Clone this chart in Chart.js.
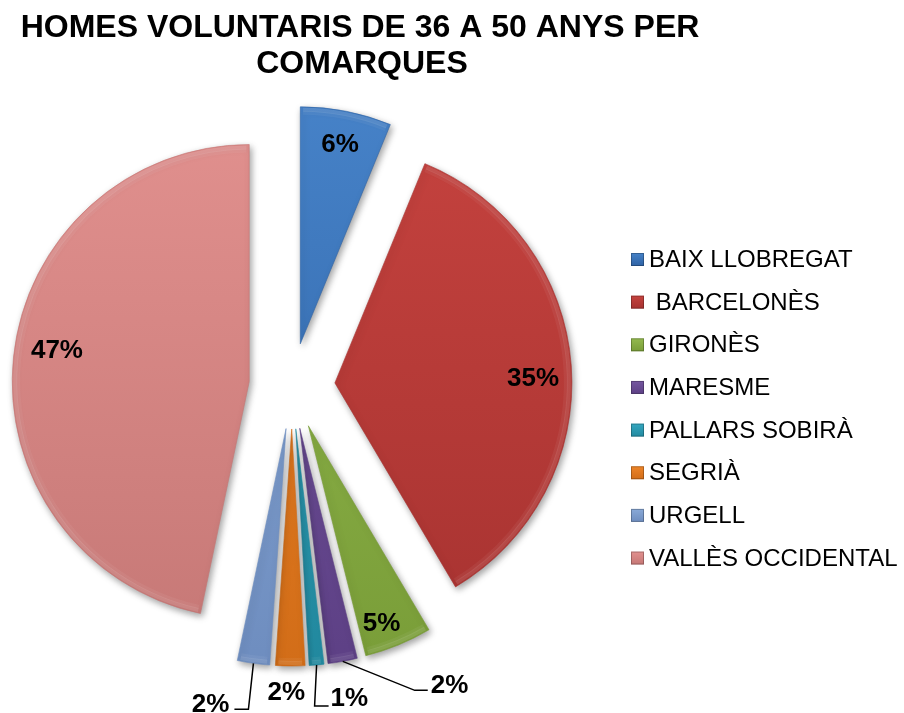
<!DOCTYPE html>
<html><head><meta charset="utf-8">
<script src="https://cdn.jsdelivr.net/npm/chart.js@4/dist/chart.umd.min.js"></script>
<style>html,body{margin:0;padding:0;background:#fff}#wrap{width:904px;height:713px;position:relative}</style>
</head><body><div id="wrap"><canvas id="c" width="904" height="713"></canvas></div>
<script>
// ---- data ----
const titleLines = ['HOMES VOLUNTARIS DE 36 A 50 ANYS PER', 'COMARQUES'];
const categories = ['BAIX LLOBREGAT', ' BARCELONÈS', 'GIRONÈS', 'MARESME', 'PALLARS SOBIRÀ', 'SEGRIÀ', 'URGELL', 'VALLÈS OCCIDENTAL'];
const percentValues = [6.2, 35.3, 4.6, 2.0, 1.0, 2.0, 2.2, 46.7];

// ---- styles ----
const baseColors  = ['#3a72b8', '#b93a37', '#88ac44', '#6a4c94', '#2b99b1', '#e27a22', '#7f9ece', '#d88886'];
const lightColors = ['#4682c8', '#c6433f', '#94ba4f', '#7556a0', '#35a7c0', '#ee8529', '#8aaad8', '#e2918f'];
const darkColors  = ['#2e62a4', '#a63230', '#799d38', '#5d4085', '#228aa0', '#d26d18', '#6e8dbf', '#c57775'];
const FONT = '"Liberation Sans", Arial, sans-serif';
const EXPLODE = 43;
const RADIUS = 237;
// label placement: inside -> fraction of radius (+ nudge); outside -> leader points & text pos relative to outer tip
const labelPlacement = [
  {inside: 0.865, nudge: [0, 0]},
  {inside: 0.83, nudge: [2, 8]},
  {inside: 0.88, nudge: [-6, 3]},
  {line: [[0,0],[72,29],[85,29]], text: [88, 22], align: 'left'},
  {line: [[0,0],[-2,41],[12,41]], text: [14, 32], align: 'left'},
  {text: [-4, 25], align: 'center'},
  {line: [[0,0],[-5,46],[-19,46]], text: [-24, 39], align: 'right'},
  {inside: 0.82, nudge: [1, -13]}
];

const explodePlugin = {
  id: 'explode',
  afterDatasetUpdate(chart, args) {
    const meta = chart.getDatasetMeta(args.index);
    meta.data.forEach(arc => {
      const mid = (arc.startAngle + arc.endAngle) / 2;
      arc.x += Math.cos(mid) * EXPLODE;
      arc.y += Math.sin(mid) * EXPLODE;
    });
  }
};

const shadowPlugin = {
  id: 'shadow',
  beforeDatasetsDraw(chart) {
    const ctx = chart.ctx;
    ctx.save();
    ctx.shadowColor = 'rgba(0,0,0,0.38)';
    ctx.shadowBlur = 7;
    ctx.shadowOffsetX = 2;
    ctx.shadowOffsetY = 3;
  },
  afterDatasetsDraw(chart) {
    chart.ctx.restore();
    // soft bevel highlight along the outer rim
    const ctx = chart.ctx;
    const meta = chart.getDatasetMeta(0);
    ctx.save();
    meta.data.forEach(arc => {
      const pad = 0.012;
      [[3, 4, 0.10], [6, 4, 0.05]].forEach(([inset, w, a]) => {
        ctx.beginPath();
        ctx.arc(arc.x, arc.y, arc.outerRadius - inset, arc.startAngle + pad, arc.endAngle - pad);
        ctx.strokeStyle = 'rgba(255,255,255,' + a + ')';
        ctx.lineWidth = w;
        ctx.stroke();
      });
    });
    ctx.restore();
  }
};

const labelsPlugin = {
  id: 'pieLabels',
  afterDatasetsDraw(chart) {
    const ctx = chart.ctx;
    const meta = chart.getDatasetMeta(0);
    const total = percentValues.reduce((a, b) => a + b, 0);
    ctx.save();
    ctx.font = 'bold 26px ' + FONT;
    ctx.fillStyle = '#000';
    ctx.strokeStyle = '#000';
    ctx.lineWidth = 1.5;
    ctx.textBaseline = 'alphabetic';
    const capHalf = 9.3;
    meta.data.forEach((arc, i) => {
      const mid = (arc.startAngle + arc.endAngle) / 2;
      const text = Math.round(percentValues[i] / total * 100) + '%';
      const lp = labelPlacement[i];
      if (lp.inside) {
        const r = arc.outerRadius * lp.inside;
        ctx.textAlign = 'center';
        ctx.fillText(text, arc.x + Math.cos(mid) * r + lp.nudge[0], arc.y + Math.sin(mid) * r + lp.nudge[1] + capHalf);
      } else {
        const tx = arc.x + Math.cos(mid) * arc.outerRadius;
        const ty = arc.y + Math.sin(mid) * arc.outerRadius;
        if (lp.line) {
          ctx.beginPath();
          lp.line.forEach((p, k) => k ? ctx.lineTo(tx + p[0], ty + p[1]) : ctx.moveTo(tx + p[0], ty + p[1]));
          ctx.stroke();
        }
        ctx.textAlign = lp.align;
        ctx.fillText(text, tx + lp.text[0], ty + lp.text[1] + capHalf);
      }
    });
    ctx.restore();
  }
};

const decorPlugin = {
  id: 'decor',
  afterDraw(chart) {
    const ctx = chart.ctx;
    ctx.save();
    // title
    ctx.fillStyle = '#000';
    ctx.font = 'bold 32px ' + FONT;
    ctx.textAlign = 'center';
    ctx.textBaseline = 'alphabetic';
    ctx.fillText(titleLines[0], 360, 37);
    ctx.fillText(titleLines[1], 362, 73);
    // legend
    ctx.font = '24px ' + FONT;
    ctx.textAlign = 'left';
    categories.forEach((name, i) => {
      const base = 267 + i * 42.65;
      const bx = 631, by = base - 14, bs = 13;
      const g = ctx.createLinearGradient(0, by, 0, by + bs);
      g.addColorStop(0, lightColors[i]);
      g.addColorStop(1, darkColors[i]);
      ctx.fillStyle = g;
      ctx.fillRect(bx, by, bs, bs);
      ctx.strokeStyle = 'rgba(0,0,0,0.25)';
      ctx.lineWidth = 1;
      ctx.strokeRect(bx + 0.5, by + 0.5, bs - 1, bs - 1);
      ctx.fillStyle = '#000';
      ctx.fillText(name, 649, base);
    });
    ctx.restore();
  }
};

new Chart(document.getElementById('c'), {
  type: 'pie',
  data: {
    labels: categories,
    datasets: [{
      data: percentValues,
      backgroundColor: (c) => {
        const i = c.dataIndex;
        if (i === undefined) return baseColors[0];
        const g = c.chart.ctx.createLinearGradient(0, 100, 0, 672);
        g.addColorStop(0, lightColors[i]);
        g.addColorStop(1, darkColors[i]);
        return g;
      },
      borderColor: darkColors.map(c => c + '99'),
      borderWidth: 1,
      clip: false
    }]
  },
  options: {
    responsive: false,
    animation: false,
    radius: RADIUS,
    layout: {padding: {left: 0, right: 320, top: 100, bottom: 41}},
    plugins: {legend: {display: false}, title: {display: false}, tooltip: {enabled: false}}
  },
  plugins: [explodePlugin, shadowPlugin, labelsPlugin, decorPlugin]
});
</script>
</body></html>
